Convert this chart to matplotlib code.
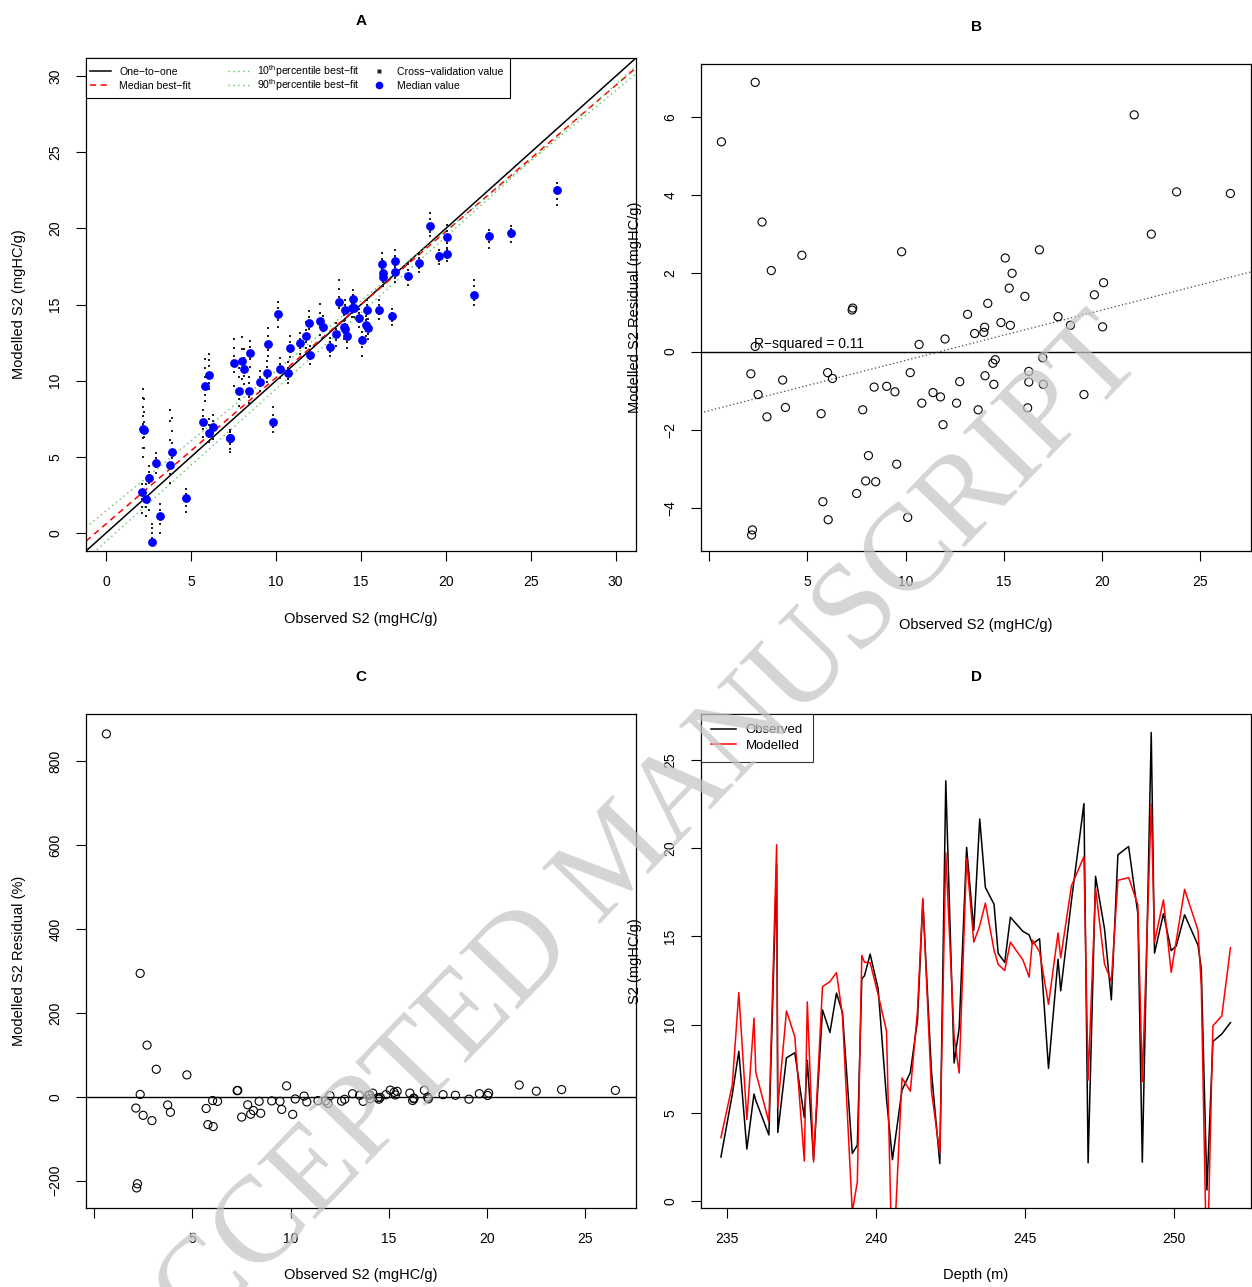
import matplotlib.pyplot as plt
from matplotlib.patches import Rectangle
import numpy as np

plt.rcParams['font.family'] = ['Liberation Sans', 'DejaVu Sans']
plt.rcParams['mathtext.fontset'] = 'custom'
plt.rcParams['mathtext.rm'] = 'Liberation Sans'

# samples in depth order: depth (m), observed S2, modelled (median) S2
depth = [234.80, 235.18, 235.40, 235.67, 235.91, 235.97, 236.41, 236.67, 236.71, 237.00,
         237.28, 237.60, 237.70, 237.91, 238.21, 238.46, 238.68, 238.88, 239.21, 239.38,
         239.53, 239.62, 239.81, 240.08, 240.36, 240.56, 240.88, 241.16, 241.40, 241.58,
         241.87, 242.15, 242.35, 242.63, 242.80, 243.05, 243.29, 243.49, 243.68, 243.97,
         244.11, 244.33, 244.52, 244.94, 245.15, 245.26, 245.50, 245.80, 246.12, 246.21,
         246.57, 246.99, 247.13, 247.38, 247.68, 247.91, 248.13, 248.49, 248.80, 248.95,
         249.25, 249.36, 249.66, 249.92, 250.09, 250.37, 250.82, 250.93, 251.12, 251.32,
         251.62, 251.91]
observed = [2.49, 6.03, 8.48, 2.94, 6.06, 5.70, 3.74, 19.09, 3.88, 8.11,
            8.40, 4.72, 7.97, 2.34, 10.83, 9.55, 11.78, 10.69, 2.69, 3.16,
            12.60, 12.76, 13.99, 12.01, 5.79, 2.34, 6.28, 7.28, 10.24, 16.99,
            7.31, 2.12, 23.81, 7.82, 9.80, 20.04, 15.34, 21.65, 17.77, 16.82,
            14.03, 13.52, 16.08, 15.28, 15.08, 14.57, 14.86, 7.51, 13.70, 11.91,
            17.02, 22.52, 2.16, 18.40, 15.43, 11.40, 19.62, 20.09, 16.28, 2.20,
            26.55, 14.05, 16.28, 14.19, 14.45, 16.22, 14.50, 13.16, 0.62, 9.04,
            9.46, 10.11]
modelled = [3.59, 6.57, 11.81, 4.61, 10.36, 7.29, 4.47, 20.19, 5.31, 10.77,
            9.31, 2.26, 11.28, 2.21, 12.15, 12.43, 12.94, 10.51, -0.62, 1.09,
            13.92, 13.53, 13.50, 11.69, 9.63, -4.54, 6.97, 6.22, 10.78, 17.15,
            6.20, 2.69, 19.73, 9.31, 7.25, 19.41, 14.67, 15.60, 16.88, 14.22,
            13.41, 13.06, 14.67, 13.66, 12.69, 14.78, 14.12, 11.14, 15.19, 13.78,
            17.86, 19.52, 6.85, 17.73, 13.43, 12.45, 18.17, 18.33, 16.79, 6.76,
            22.51, 14.67, 17.06, 12.96, 14.75, 17.66, 15.34, 12.21, -4.74, 9.93,
            10.49, 14.35]

# cross-validation values, as offsets from each sample's median
cv_offsets = [
    [0.8, 0.4, 0.2, -0.3, -1.6, -2.1], [0.9, 0.5, -0.3, -0.6], [0.8, 0.4, -0.4, -0.9],
    [0.6, 0.3, -0.3, -0.7], [1.4, 1.0, 0.6, -0.5, -0.9], [0.8, 0.4, -0.5, -1.0],
    [3.6, 2.9, 1.6, 0.8, -0.6, -1.2], [0.8, 0.4, -0.4, -0.7], [2.2, 1.4, 0.6, -0.4, -0.9],
    [1.3, 0.7, -0.5, -1.0], [0.9, 0.5, -0.4, -0.8], [0.6, 0.3, -0.5, -0.9],
    [1.6, 0.8, -0.6, -1.2], [1.0, 0.4, -0.5, -1.1], [0.8, 0.4, -0.3, -0.6],
    [1.0, 0.5, -0.4, -0.8], [0.9, 0.4, -0.4, -0.8], [0.7, 0.3, -0.4, -0.7],
    [1.2, 0.9, 0.6, 0.3], [0.8, 0.4, -0.5, -1.1], [1.1, 0.5, -0.4, -0.9],
    [0.7, 0.3, -0.3, -0.7], [0.8, 0.4, -0.4, -0.8], [0.6, 0.3, -0.3, -0.6],
    [1.8, 1.2, 0.6, -0.6, -1.0], [], [0.8, 0.4, -0.4, -0.8],
    [0.5, 0.2, -0.4, -0.9], [0.7, 0.3, -0.3, -0.6], [0.8, 0.4, -0.4, -0.7],
    [0.4, -0.3, -0.7], [0.5, -0.5, -1.0, -1.4], [0.4, 0.2, -0.3, -0.6],
    [1.5, 0.9, -0.5, -1.0], [1.0, 0.5, -0.3, -0.6], [0.8, 0.4, -0.4, -0.8],
    [0.6, 0.3, -0.3, -0.6], [1.0, 0.6, -0.3, -0.6], [0.8, 0.4, -0.3, -0.6],
    [0.5, 0.2, -0.3, -0.6], [0.6, 0.3, -0.3, -0.7], [0.7, 0.3, -0.4, -0.8],
    [0.6, 0.3, -0.3, -0.6], [0.6, 0.3, -0.4, -0.7], [0.5, 0.2, -0.5, -1.1],
    [0.7, 0.3, -0.3, -0.6], [0.6, 0.3, -0.3, -0.6], [1.6, 1.0, 0.5, -0.6, -1.5],
    [1.4, 0.8, 0.3, -0.4], [0.8, 0.4, -0.4, -0.8], [0.7, 0.3, -0.4, -0.7],
    [0.4, 0.2, -0.4, -0.8], [2.6, 2.0, 1.4, 0.8, 0.3, -0.6, -1.3, -1.9], [0.6, 0.3, -0.3, -0.6],
    [0.6, 0.3, -0.4, -0.7], [0.7, 0.3, -0.3, -0.7], [0.4, 0.2, -0.3, -0.5],
    [0.4, 0.2, -0.3, -0.5], [0.7, 0.3, -0.3, -0.6], [2.0, 1.2, 0.5, -0.5, -1.2],
    [0.5, 0.2, -0.6, -1.0], [0.6, 0.3, -0.3, -0.6], [0.8, 0.4, -0.3, -0.6],
    [0.7, 0.3, -0.4, -0.8], [0.6, 0.3, -0.3, -0.6], [0.7, 0.3, -0.3, -0.6],
    [0.6, 0.3, -0.3, -0.6], [0.6, 0.3, -0.3, -0.6], [], [0.7, 0.3, -0.3, -0.6],
    [0.8, 0.4, -0.3, -0.6], [0.8, 0.4, -0.4, -0.8],
]

# best-fit lines in panel A (slope, intercept)
fit_median = (0.96, 0.6)
fit_p10 = (0.92, 1.45)
fit_p90 = (1.0, -0.55)
r_squared_label = 'R\u2212squared = 0.11'

obs = np.array(observed)
mod = np.array(modelled)
resid = obs - mod
resid_pct = resid / obs * 100

GREEN = '#5cc45c'
DASH = (0, (4, 3))
DOT = (0, (1, 2.5))


def r_style(ax, ylabel, xlabel, title):
    for s in ax.spines.values():
        s.set_linewidth(0.9)
    ax.tick_params(direction='out', length=7, width=0.8, labelsize=10, pad=10)
    for lab in ax.get_yticklabels():
        lab.set_rotation(90)
        lab.set_va('center')
    ax.set_xlabel(xlabel, fontsize=10.5)
    ax.set_ylabel(ylabel, fontsize=10.5)
    ax.set_title(title, fontsize=11, fontweight='bold', pad=24)


fig = plt.figure(figsize=(12.52, 12.87), dpi=100)
W, H = 1252, 1287


def add_ax(left, top, right, bottom):
    return fig.add_axes([left / W, 1 - bottom / H, (right - left) / W, (bottom - top) / H])


# ---- A
axA = add_ax(86, 58, 636, 551)
xx = np.array([-1.2, 31.2])
axA.plot(xx, xx, color='black', lw=1.1)
axA.plot(xx, fit_median[0] * xx + fit_median[1], color='red', ls=DASH, lw=1.1)
axA.plot(xx, fit_p10[0] * xx + fit_p10[1], color=GREEN, ls=DOT, lw=1.0)
axA.plot(xx, fit_p90[0] * xx + fit_p90[1], color=GREEN, ls=DOT, lw=1.0)
cvx, cvy = [], []
for o, m, offs in zip(observed, modelled, cv_offsets):
    for d in offs:
        cvx.append(o)
        cvy.append(m + d)
axA.scatter(cvx, cvy, s=2.2, color='#222222', marker='s', lw=0, zorder=3)
axA.scatter(obs, mod, s=40, color='blue', lw=0, zorder=4)
axA.set_xlim(-1.2, 31.2)
axA.set_ylim(-1.2, 31.2)
axA.set_xticks(range(0, 31, 5))
axA.set_yticks(range(0, 31, 5))
r_style(axA, 'Modelled S2 (mgHC/g)', 'Observed S2 (mgHC/g)', 'A')


# legend A drawn by hand: R's legend() uses three equal-width columns
def ax_px(px, py):
    return (px - 86) / 550, (551 - py) / 493


axA.add_patch(Rectangle(ax_px(86, 98), 424 / 550, 40 / 493, transform=axA.transAxes,
                        facecolor='white', edgecolor='black', lw=0.8, zorder=5, clip_on=False))
legend_rows = [
    (90, 71, 'line', dict(color='black', ls='-', lw=1.1), 'One\u2212to\u2212one'),
    (90, 85, 'line', dict(color='red', ls=DASH, lw=1.1), 'Median best\u2212fit'),
    (228, 71, 'line', dict(color=GREEN, ls=DOT, lw=1.0), '10$^{\\mathrm{th}}$percentile best\u2212fit'),
    (228, 85, 'line', dict(color=GREEN, ls=DOT, lw=1.0), '90$^{\\mathrm{th}}$percentile best\u2212fit'),
    (368, 71, 'point', dict(color='#222222', marker='s', ms=2.2), 'Cross\u2212validation value'),
    (368, 85, 'point', dict(color='blue', marker='o', ms=5.5), 'Median value'),
]
for px, py, kind, style, text in legend_rows:
    x0, y0 = ax_px(px, py)
    x1, _ = ax_px(px + 21, py)
    if kind == 'line':
        axA.plot([x0, x1], [y0, y0], transform=axA.transAxes, clip_on=False, zorder=6, **style)
    else:
        axA.plot([(x0 + x1) / 2], [y0], transform=axA.transAxes, clip_on=False, zorder=6,
                 ls='none', mec='none', **style)
    tx, ty = ax_px(px + 29, py + 3.8)
    axA.text(tx, ty, text, transform=axA.transAxes, fontsize=7.6, va='baseline', ha='left', zorder=6)

# ---- B
axB = add_ax(701, 64, 1251, 551)
axB.scatter(obs, resid, s=34, facecolors='none', edgecolors='black', linewidths=0.8, zorder=3)
axB.axhline(0, color='black', lw=1.0)
slope, icpt = np.polyfit(obs, resid, 1)
bx = np.array([-1, 28])
axB.plot(bx, slope * bx + icpt, color='#444444', ls=(0, (1, 2)), lw=0.9)
axB.text(2.3, 0.2, r_squared_label, fontsize=10, ha='left', va='center')
axB.set_xlim(-0.42, 27.6)
axB.set_ylim(-5.1, 7.35)
axB.set_xticks(range(0, 26, 5))
axB.set_xticklabels([''] + [str(v) for v in range(5, 26, 5)])
axB.set_yticks(range(-4, 7, 2))
r_style(axB, 'Modelled S2 Residual (mgHC/g)', 'Observed S2 (mgHC/g)', 'B')

# ---- C
axC = add_ax(86, 714, 636, 1208)
axC.scatter(obs, resid_pct, s=34, facecolors='none', edgecolors='black', linewidths=0.8, zorder=3)
axC.axhline(0, color='black', lw=1.0)
axC.set_xlim(-0.42, 27.6)
axC.set_ylim(-265, 912)
axC.set_xticks(range(0, 26, 5))
axC.set_xticklabels([''] + [str(v) for v in range(5, 26, 5)])
axC.set_yticks(range(-200, 801, 200))
r_style(axC, 'Modelled S2 Residual (%)', 'Observed S2 (mgHC/g)', 'C')

# ---- D
axD = add_ax(701, 714, 1251, 1208)
axD.plot(depth, observed, color='black', lw=1.1, label='Observed')
axD.plot(depth, modelled, color='red', lw=1.1, label='Modelled')
axD.set_xlim(234.13, 252.6)
axD.set_ylim(-0.4, 27.6)
axD.set_xticks(range(235, 251, 5))
axD.set_yticks(range(0, 26, 5))
r_style(axD, 'S2 (mgHC/g)', 'Depth (m)', 'D')
legD = axD.legend(loc='upper left', fontsize=9.5, frameon=True, fancybox=False,
                  borderaxespad=0, handlelength=1.9, handletextpad=0.75, labelspacing=0.25,
                  borderpad=0.75)
legD.get_frame().set_edgecolor('black')
legD.get_frame().set_linewidth(0.8)

# label positions (axes coords)
for ax, (lx, ly) in [(axA, (-0.122, -0.138)), (axB, (-0.12, -0.152)),
                     (axC, (-0.122, -0.135)), (axD, (-0.12, -0.135))]:
    ax.xaxis.set_label_coords(0.5, ly)
    ax.xaxis.label.set_va('center')
    ax.yaxis.set_label_coords(lx, 0.5)
    ax.yaxis.label.set_va('center')

fig.text(620 / W, 1 - 860 / H, 'ACCEPTED MANUSCRIPT', rotation=46, ha='center', va='center',
         fontsize=88, family='Liberation Serif', color='#c4c4c4', alpha=0.72, zorder=20)

fig.savefig('out.png', dpi=100)
